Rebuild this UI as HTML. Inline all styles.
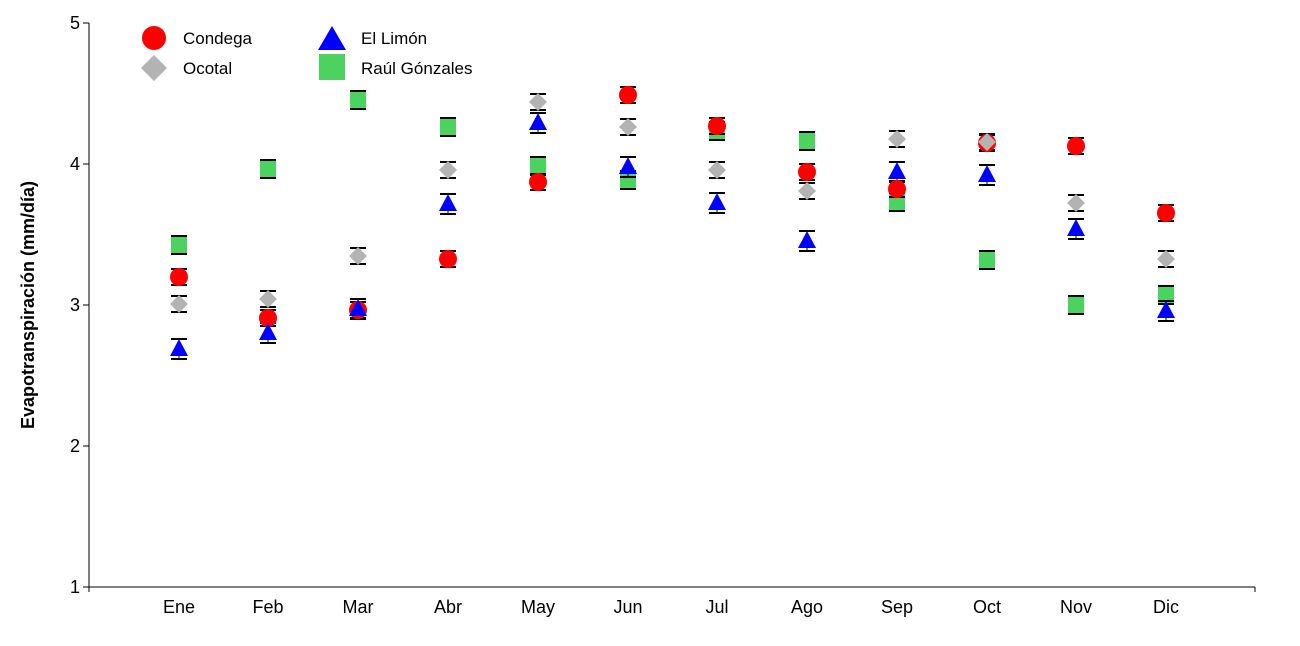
<!DOCTYPE html>
<html><head><meta charset="utf-8"><style>
html,body{margin:0;padding:0;background:#fff;}
svg{display:block;font-family:"Liberation Sans",Arial,sans-serif;}
</style></head><body>
<svg id="s" width="1300" height="646" xmlns="http://www.w3.org/2000/svg">
<line x1="89" y1="23" x2="89" y2="587" stroke="#000"/>
<line x1="89" y1="587" x2="1255" y2="587" stroke="#000"/>
<line x1="1255" y1="587" x2="1255" y2="592" stroke="#000"/>
<line x1="89" y1="587" x2="89" y2="592" stroke="#000"/>
<g stroke="#000">
<line x1="83" y1="23" x2="89" y2="23"/><line x1="83" y1="164" x2="89" y2="164"/>
<line x1="83" y1="305" x2="89" y2="305"/><line x1="83" y1="446" x2="89" y2="446"/>
<line x1="83" y1="587" x2="89" y2="587"/>
</g>
<g font-size="18" text-anchor="end">
<text x="80" y="29">5</text><text x="80" y="170">4</text><text x="80" y="311">3</text>
<text x="80" y="452">2</text><text x="80" y="593">1</text>
</g>
<text transform="translate(34,305) rotate(-90)" font-size="18" font-weight="bold" text-anchor="middle">Evapotranspiración (mm/día)</text>
<g id="xl" font-size="18" text-anchor="middle"></g>
<g id="d"></g>
<circle cx="154" cy="38" r="12" fill="#f00"/>
<text x="183" y="44" font-size="17">Condega</text>
<polygon points="154,55 167,68 154,81 141,68" fill="#b3b3b3"/>
<text x="183" y="74" font-size="17">Ocotal</text>
<polygon points="332,26 346,50 318,50" fill="#00f"/>
<text x="361" y="44" font-size="17">El Limón</text>
<rect x="319" y="54" width="26" height="26" fill="#4cd25e"/>
<text x="361" y="74" font-size="17">Raúl Gónzales</text>
</svg>
<script>
var xs=[179,268,358,448,538,628,717,807,897,987,1076,1166];
var m=["Ene","Feb","Mar","Abr","May","Jun","Jul","Ago","Sep","Oct","Nov","Dic"];
var NS="http://www.w3.org/2000/svg";
function el(p,t,a,txt){var e=document.createElementNS(NS,t);for(var k in a)e.setAttribute(k,a[k]);if(txt)e.textContent=txt;p.appendChild(e);return e;}
var xl=document.getElementById("xl"),d=document.getElementById("d");
m.forEach(function(n,i){el(xl,"text",{x:xs[i],y:613},n);});
var C=[277,318,310,259,182,95,126,172,189,143,146,213];
var O=[304,299,256,170,102,127,170,191,139,142,203,259];
var L=[349,333,309,204,123,167,203,241,172,175,229,311];
var R=[245,169,100,127,166,180,131,141,202,260,305,295];
function eb(x,y,e){el(d,"line",{x1:x,y1:y-e,x2:x,y2:y+e,stroke:"#000"});
el(d,"line",{x1:x-8,y1:y-e,x2:x+8,y2:y-e,stroke:"#000","stroke-width":2});
el(d,"line",{x1:x-8,y1:y+e,x2:x+8,y2:y+e,stroke:"#000","stroke-width":2});}
xs.forEach(function(x,i){
 eb(x,R[i],9);
 el(d,"rect",{x:x-8,y:R[i]-8,width:16,height:16,fill:"#4cd25e"});
 eb(x,C[i],8);eb(x,O[i],8);eb(x,L[i],10);
 el(d,"circle",{cx:x,cy:C[i],r:9,fill:"#f00"});
 el(d,"polygon",{points:(x)+","+(O[i]-9)+" "+(x+9)+","+O[i]+" "+x+","+(O[i]+9)+" "+(x-9)+","+O[i],fill:"#b3b3b3"});
 el(d,"polygon",{points:x+","+(L[i]-10)+" "+(x+9)+","+(L[i]+7)+" "+(x-9)+","+(L[i]+7),fill:"#00f"});
});
</script>
</body></html>
